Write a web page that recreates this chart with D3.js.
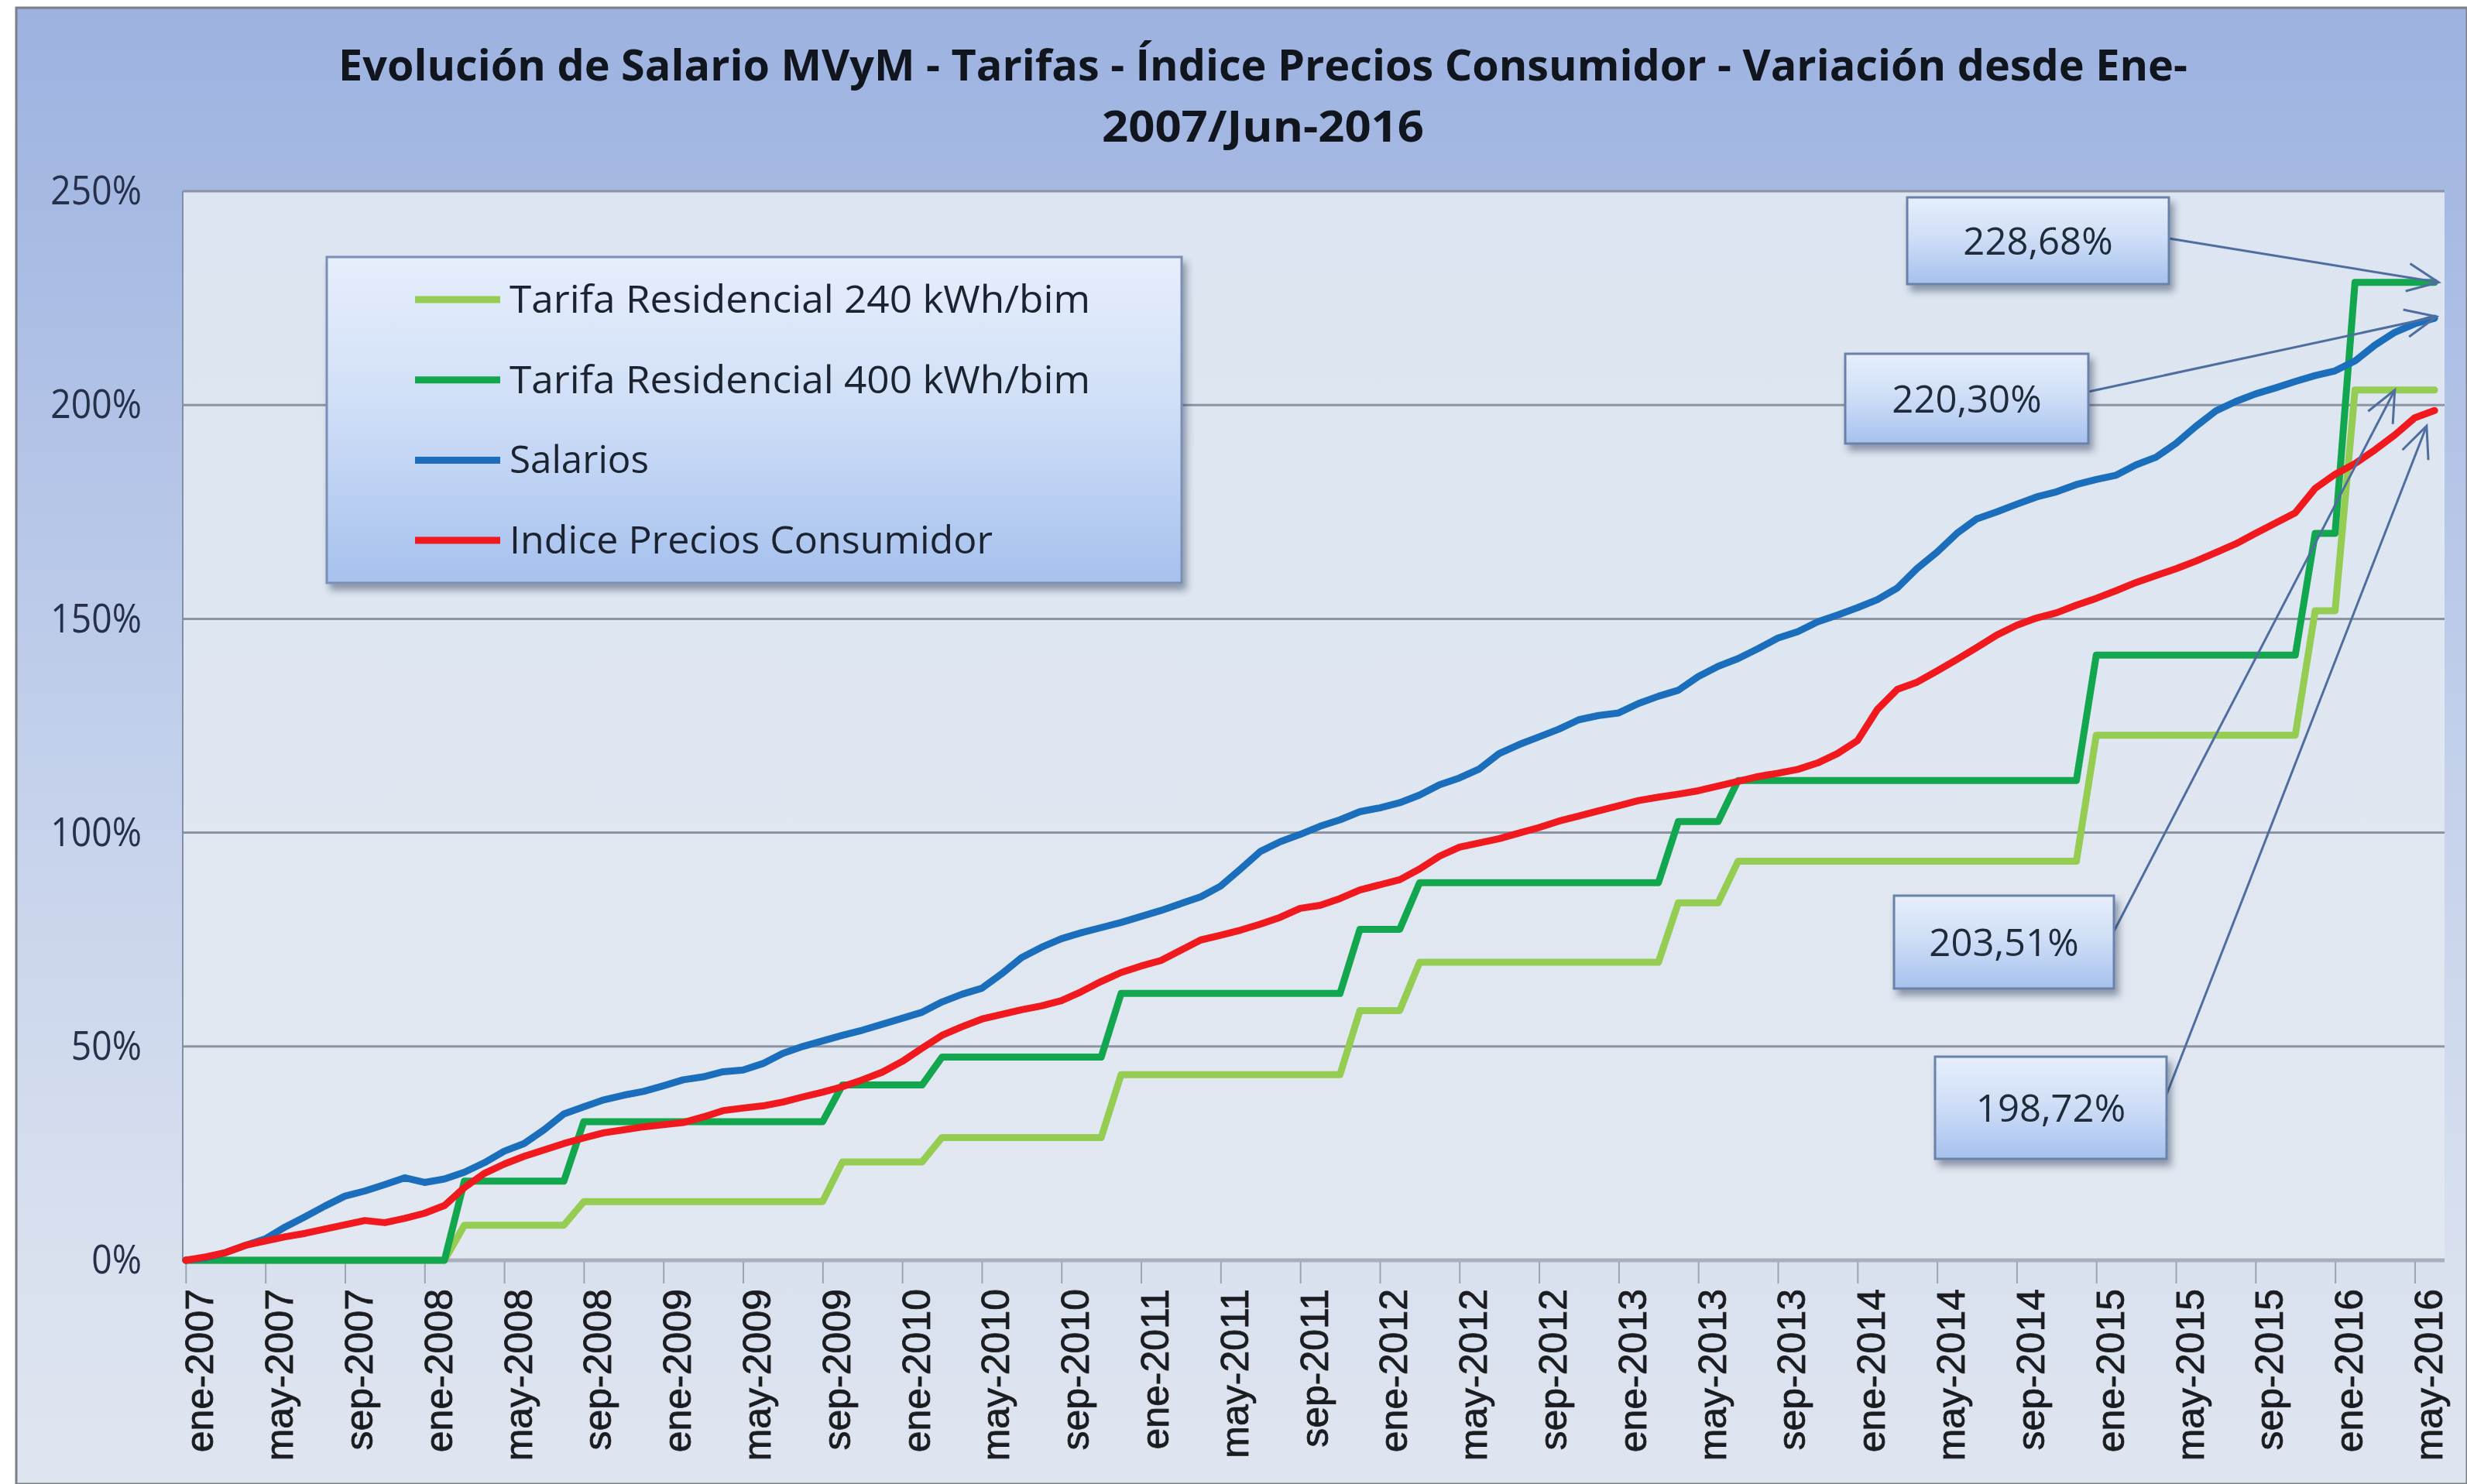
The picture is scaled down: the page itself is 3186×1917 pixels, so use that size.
<!DOCTYPE html>
<html>
<head>
<meta charset="utf-8">
<script src="https://cdn.jsdelivr.net/npm/d3@7"></script>
<style>
  html, body { margin: 0; padding: 0; background: #ffffff; }
  svg { display: block; }
</style>
</head>
<body>
<div id="chart"></div>
<script>
// ---- data (monthly, ene-2007 .. jun-2016, % variation) ----
const titleLines = [
  "Evolución de Salario MVyM - Tarifas - Índice Precios Consumidor - Variación desde Ene-",
  "2007/Jun-2016"
];
const seriesNames = [
  "Tarifa Residencial 240 kWh/bim",
  "Tarifa Residencial 400 kWh/bim",
  "Salarios",
  "Indice Precios Consumidor"
];
const tickLabels = [
  "ene-2007", "may-2007", "sep-2007", "ene-2008", "may-2008", "sep-2008",
  "ene-2009", "may-2009", "sep-2009", "ene-2010", "may-2010", "sep-2010",
  "ene-2011", "may-2011", "sep-2011", "ene-2012", "may-2012", "sep-2012",
  "ene-2013", "may-2013", "sep-2013", "ene-2014", "may-2014", "sep-2014",
  "ene-2015", "may-2015", "sep-2015", "ene-2016", "may-2016"
];
const tickMonths = [0, 4, 8, 12, 16, 20, 24, 28, 32, 36, 40, 44, 48, 52, 56,
  60, 64, 68, 72, 76, 80, 84, 88, 92, 96, 100, 104, 108, 112];
const yTicks = [0, 50, 100, 150, 200, 250];

const tarifa240 = [
  0, 0, 0, 0, 0, 0, 0, 0, 0, 0, 0, 0,
  0, 0, 8.2, 8.2, 8.2, 8.2, 8.2, 8.2, 13.7, 13.7, 13.7, 13.7,
  13.7, 13.7, 13.7, 13.7, 13.7, 13.7, 13.7, 13.7, 13.7, 23.0, 23.0, 23.0,
  23.0, 23.0, 28.7, 28.7, 28.7, 28.7, 28.7, 28.7, 28.7, 28.7, 28.7, 43.4,
  43.4, 43.4, 43.4, 43.4, 43.4, 43.4, 43.4, 43.4, 43.4, 43.4, 43.4, 58.4,
  58.4, 58.4, 69.7, 69.7, 69.7, 69.7, 69.7, 69.7, 69.7, 69.7, 69.7, 69.7,
  69.7, 69.7, 69.7, 83.6, 83.6, 83.6, 93.3, 93.3, 93.3, 93.3, 93.3, 93.3,
  93.3, 93.3, 93.3, 93.3, 93.3, 93.3, 93.3, 93.3, 93.3, 93.3, 93.3, 93.3,
  122.8, 122.8, 122.8, 122.8, 122.8, 122.8, 122.8, 122.8, 122.8, 122.8, 122.8, 151.9,
  151.9, 203.51, 203.51, 203.51, 203.51, 203.51
];
const tarifa400 = [
  0, 0, 0, 0, 0, 0, 0, 0, 0, 0, 0, 0,
  0, 0, 18.5, 18.5, 18.5, 18.5, 18.5, 18.5, 32.4, 32.4, 32.4, 32.4,
  32.4, 32.4, 32.4, 32.4, 32.4, 32.4, 32.4, 32.4, 32.4, 41.0, 41.0, 41.0,
  41.0, 41.0, 47.5, 47.5, 47.5, 47.5, 47.5, 47.5, 47.5, 47.5, 47.5, 62.4,
  62.4, 62.4, 62.4, 62.4, 62.4, 62.4, 62.4, 62.4, 62.4, 62.4, 62.4, 77.4,
  77.4, 77.4, 88.3, 88.3, 88.3, 88.3, 88.3, 88.3, 88.3, 88.3, 88.3, 88.3,
  88.3, 88.3, 88.3, 102.6, 102.6, 102.6, 112.2, 112.2, 112.2, 112.2, 112.2, 112.2,
  112.2, 112.2, 112.2, 112.2, 112.2, 112.2, 112.2, 112.2, 112.2, 112.2, 112.2, 112.2,
  141.5, 141.5, 141.5, 141.5, 141.5, 141.5, 141.5, 141.5, 141.5, 141.5, 141.5, 170.0,
  170.0, 228.68, 228.68, 228.68, 228.68, 228.68
];
const salarios = [
  0, 0.6, 1.8, 3.5, 5.0, 7.8, 10.2, 12.7, 15.0, 16.2, 17.7, 19.3,
  18.2, 19.0, 20.6, 22.8, 25.5, 27.3, 30.5, 34.2, 35.9, 37.5, 38.6, 39.5,
  40.8, 42.2, 42.9, 44.1, 44.5, 46.0, 48.4, 50.0, 51.3, 52.6, 53.8, 55.2,
  56.6, 58.0, 60.4, 62.2, 63.6, 67.0, 70.8, 73.2, 75.2, 76.6, 77.8, 79.0,
  80.4, 81.8, 83.4, 85.0, 87.5, 91.5, 95.6, 97.9, 99.6, 101.5, 103.0, 104.9,
  105.8, 107.0, 108.8, 111.2, 112.8, 114.9, 118.5, 120.6, 122.4, 124.2, 126.4, 127.4,
  128.0, 130.2, 131.9, 133.3, 136.5, 138.9, 140.7, 143.0, 145.5, 147.0, 149.3, 150.9,
  152.6, 154.5, 157.2, 161.8, 165.6, 170.0, 173.4, 175.0, 176.8, 178.5, 179.7, 181.4,
  182.6, 183.6, 186.0, 187.8, 191.0, 195.0, 198.6, 200.8, 202.6, 204.0, 205.5, 206.9,
  208.0, 210.3, 214.0, 217.0, 219.0, 220.30
];
const ipc = [
  0, 0.8, 1.8, 3.5, 4.5, 5.5, 6.3, 7.3, 8.3, 9.3, 8.8, 9.8,
  11.0, 12.8, 17.0, 20.3, 22.5, 24.3, 25.8, 27.3, 28.6, 29.8, 30.5, 31.2,
  31.7, 32.2, 33.5, 35.0, 35.6, 36.1, 37.0, 38.2, 39.3, 40.6, 42.2, 44.0,
  46.5, 49.6, 52.6, 54.6, 56.4, 57.5, 58.6, 59.5, 60.7, 62.8, 65.2, 67.3,
  68.8, 70.1, 72.5, 74.9, 76.0, 77.2, 78.6, 80.2, 82.3, 83.0, 84.6, 86.6,
  87.8, 89.0, 91.5, 94.5, 96.6, 97.6, 98.6, 99.9, 101.2, 102.7, 103.9, 105.1,
  106.3, 107.5, 108.3, 109.0, 109.8, 110.9, 112.0, 113.1, 113.9, 114.8, 116.3, 118.5,
  121.5, 128.8, 133.5, 135.2, 137.8, 140.5, 143.3, 146.2, 148.5, 150.2, 151.4, 153.2,
  154.8, 156.6, 158.5, 160.1, 161.7, 163.5, 165.5, 167.5, 170.0, 172.4, 174.8, 180.5,
  183.8, 186.3, 189.5, 193.0, 197.0, 198.72
];
const calloutLabels = ["228,68%", "220,30%", "203,51%", "198,72%"];

// ---- layout ----
const width = 3186;
const height = 1917;
const plot = { left: 236, right: 3157, top: 247, bottom: 1628 };
const colors = ["#95cc52", "#12a64e", "#1a6ebb", "#f0191e"];
const series = [tarifa240, tarifa400, salarios, ipc];
const legendWidths = [750, 750, 180, 624];

const xScale = d3.scaleLinear().domain([-0.15, 113.5]).range([plot.left, plot.right]);
const yScale = d3.scaleLinear().domain([0, 250]).range([plot.bottom, plot.top]);

const svg = d3
  .select("#chart")
  .append("svg")
  .attr("width", width)
  .attr("height", height);

const defs = svg.append("defs");

function addGradient(id, stops, x2 = 0, y2 = 1) {
  const g = defs
    .append("linearGradient")
    .attr("id", id)
    .attr("x1", 0).attr("y1", 0)
    .attr("x2", x2).attr("y2", y2);
  stops.forEach(([o, c]) => g.append("stop").attr("offset", o).attr("stop-color", c));
}
addGradient("chartBg", [[0, "#9db2e0"], [0.14, "#a6bae3"], [0.5, "#c3d0eb"], [0.85, "#d9e1ef"], [1, "#dfe5f0"]]);
addGradient("plotBg", [[0, "#dce5f1"], [1, "#e2e8f1"]]);
addGradient("boxBg", [[0, "#e6eefb"], [0.45, "#d0dff7"], [1, "#a6c1ee"]]);

const shadow = defs.append("filter").attr("id", "shadow")
  .attr("x", "-10%").attr("y", "-10%").attr("width", "130%").attr("height", "140%");
shadow.append("feDropShadow")
  .attr("dx", 5).attr("dy", 8).attr("stdDeviation", 5)
  .attr("flood-color", "#26344d").attr("flood-opacity", 0.45);

// chart area
svg.append("rect")
  .attr("x", 21).attr("y", 10)
  .attr("width", width - 21).attr("height", height - 10)
  .attr("fill", "url(#chartBg)")
  .attr("stroke", "#7c7f86")
  .attr("stroke-width", 3);

// title
svg.selectAll(".title")
  .data(titleLines)
  .enter()
  .append("text")
  .attr("class", "title")
  .attr("x", 1631)
  .attr("y", (d, i) => 104 + i * 79)
  .attr("text-anchor", "middle")
  .attr("textLength", (d, i) => (i === 0 ? 2388 : 416))
  .attr("lengthAdjust", "spacingAndGlyphs")
  .style("font-family", "'Open Sans', sans-serif")
  .style("font-weight", 700)
  .style("font-size", "56px")
  .style("fill", "#11151d")
  .text(d => d);

// plot area
svg.append("rect")
  .attr("x", plot.left).attr("y", plot.top)
  .attr("width", plot.right - plot.left).attr("height", plot.bottom - plot.top)
  .attr("fill", "url(#plotBg)");

const mainGroup = svg.append("g");

// gridlines
mainGroup.selectAll(".grid")
  .data(yTicks.filter(d => d > 0))
  .enter()
  .append("line")
  .attr("class", "grid")
  .attr("x1", plot.left).attr("x2", plot.right)
  .attr("y1", d => yScale(d)).attr("y2", d => yScale(d))
  .attr("stroke", "#8a94a3")
  .attr("stroke-width", 3);

// left axis line
mainGroup.append("line")
  .attr("x1", plot.left).attr("x2", plot.left)
  .attr("y1", plot.top).attr("y2", plot.bottom)
  .attr("stroke", "#7f8fa8")
  .attr("stroke-width", 2);

// x axis
const xAxis = d3.axisBottom(xScale)
  .tickValues(tickMonths)
  .tickFormat((d, i) => tickLabels[i])
  .tickSize(30)
  .tickSizeOuter(0);

const xAxisGroup = mainGroup.append("g")
  .attr("class", "x axis")
  .attr("transform", `translate(0,${plot.bottom})`)
  .call(xAxis);

xAxisGroup.select(".domain").remove();
xAxisGroup.selectAll(".tick line")
  .attr("stroke", "#9aa4b2")
  .attr("stroke-width", 2);
xAxisGroup.selectAll(".tick text")
  .attr("transform", "rotate(-90)")
  .attr("x", -37)
  .attr("y", 35)
  .attr("dy", 0)
  .attr("text-anchor", "end")
  .style("font-family", "'Liberation Sans', Arial, sans-serif")
  .style("font-size", "50px")
  .style("fill", "#1b1c20")
  .style("stroke", "#1b1c20")
  .style("stroke-width", 0.8);

mainGroup.append("line")
  .attr("x1", plot.left).attr("x2", plot.right)
  .attr("y1", yScale(0)).attr("y2", yScale(0))
  .attr("stroke", "#a6afbb")
  .attr("stroke-width", 5);

// y axis labels
const yAxis = d3.axisLeft(yScale)
  .tickValues(yTicks)
  .tickFormat(d => d + "%")
  .tickSize(0)
  .tickPadding(53);

const yAxisGroup = mainGroup.append("g")
  .attr("class", "y axis")
  .attr("transform", `translate(${plot.left},0)`)
  .call(yAxis);
yAxisGroup.select(".domain").remove();
yAxisGroup.selectAll(".tick text")
  .style("font-family", "'Open Sans', sans-serif")
  .style("font-size", "52px")
  .style("fill", "#26304a")
  .each(function () {
    const w = this.getComputedTextLength();
    d3.select(this).attr("textLength", w * 0.89).attr("lengthAdjust", "spacingAndGlyphs");
  });

// series lines
const line = d3.line()
  .x((d, i) => xScale(i))
  .y(d => yScale(d));

mainGroup.selectAll(".series")
  .data(series)
  .enter()
  .append("path")
  .attr("class", "series")
  .attr("d", d => line(d))
  .attr("fill", "none")
  .attr("stroke", (d, i) => colors[i])
  .attr("stroke-width", 9)
  .attr("stroke-linejoin", "round")
  .attr("stroke-linecap", "round");

// legend
const legend = svg.append("g").attr("transform", "translate(422,332)");
legend.append("rect")
  .attr("width", 1104).attr("height", 421)
  .attr("fill", "url(#boxBg)")
  .attr("stroke", "#7a8fb3")
  .attr("stroke-width", 3)
  .attr("filter", "url(#shadow)");

const legendItems = legend.selectAll(".item")
  .data(seriesNames)
  .enter()
  .append("g")
  .attr("class", "item")
  .attr("transform", (d, i) => `translate(0,${55 + i * 103.7})`);

legendItems.append("line")
  .attr("x1", 114).attr("x2", 224)
  .attr("stroke", (d, i) => colors[i])
  .attr("stroke-width", 9);

legendItems.append("text")
  .attr("x", 236)
  .attr("y", 17)
  .attr("textLength", (d, i) => legendWidths[i])
  .attr("lengthAdjust", "spacingAndGlyphs")
  .style("font-family", "'Open Sans', sans-serif")
  .style("font-size", "50px")
  .style("fill", "#1b2230")
  .text(d => d);

// callouts
const lastIndex = ipc.length - 1;
const calloutLayout = [
  { box: [2463, 255, 338, 112], from: [2801, 308], month: 113.2, value: tarifa400[lastIndex], dy: 0 },
  { box: [2383, 457, 314, 116], from: [2697, 506], month: 113.1, value: salarios[lastIndex], dy: -2 },
  { box: [2446, 1157, 284, 120], from: [2730, 1203], month: 111.0, value: tarifa240[lastIndex], dy: 0 },
  { box: [2499, 1365, 299, 132], from: [2798, 1414], month: 112.6, value: ipc[lastIndex], dy: 20 }
];

function arrowHead(x1, y1, x2, y2, len = 44, spread = 0.42) {
  const a = Math.atan2(y2 - y1, x2 - x1);
  return [
    [x2 - len * Math.cos(a - spread), y2 - len * Math.sin(a - spread)],
    [x2, y2],
    [x2 - len * Math.cos(a + spread), y2 - len * Math.sin(a + spread)]
  ];
}

const callouts = svg.selectAll(".callout")
  .data(calloutLayout)
  .enter()
  .append("g")
  .attr("class", "callout");

callouts.each(function (c, i) {
  const g = d3.select(this);
  const tx = xScale(c.month);
  const ty = yScale(c.value) + c.dy;
  g.append("line")
    .attr("x1", c.from[0]).attr("y1", c.from[1])
    .attr("x2", tx).attr("y2", ty)
    .attr("stroke", "#4f6e9f")
    .attr("stroke-width", 3);
  g.append("path")
    .attr("d", d3.line()(arrowHead(c.from[0], c.from[1], tx, ty)))
    .attr("fill", "none")
    .attr("stroke", "#4f6e9f")
    .attr("stroke-width", 3);
  g.append("rect")
    .attr("x", c.box[0]).attr("y", c.box[1])
    .attr("width", c.box[2]).attr("height", c.box[3])
    .attr("fill", "url(#boxBg)")
    .attr("stroke", "#6a82aa")
    .attr("stroke-width", 3)
    .attr("filter", "url(#shadow)");
  g.append("text")
    .attr("x", c.box[0] + c.box[2] / 2)
    .attr("y", c.box[1] + c.box[3] / 2)
    .attr("dy", "0.36em")
    .attr("text-anchor", "middle")
    .style("font-family", "'Open Sans', sans-serif")
    .style("font-size", "49px")
    .style("fill", "#1f2b3b")
    .text(calloutLabels[i]);
});
</script>
</body>
</html>
